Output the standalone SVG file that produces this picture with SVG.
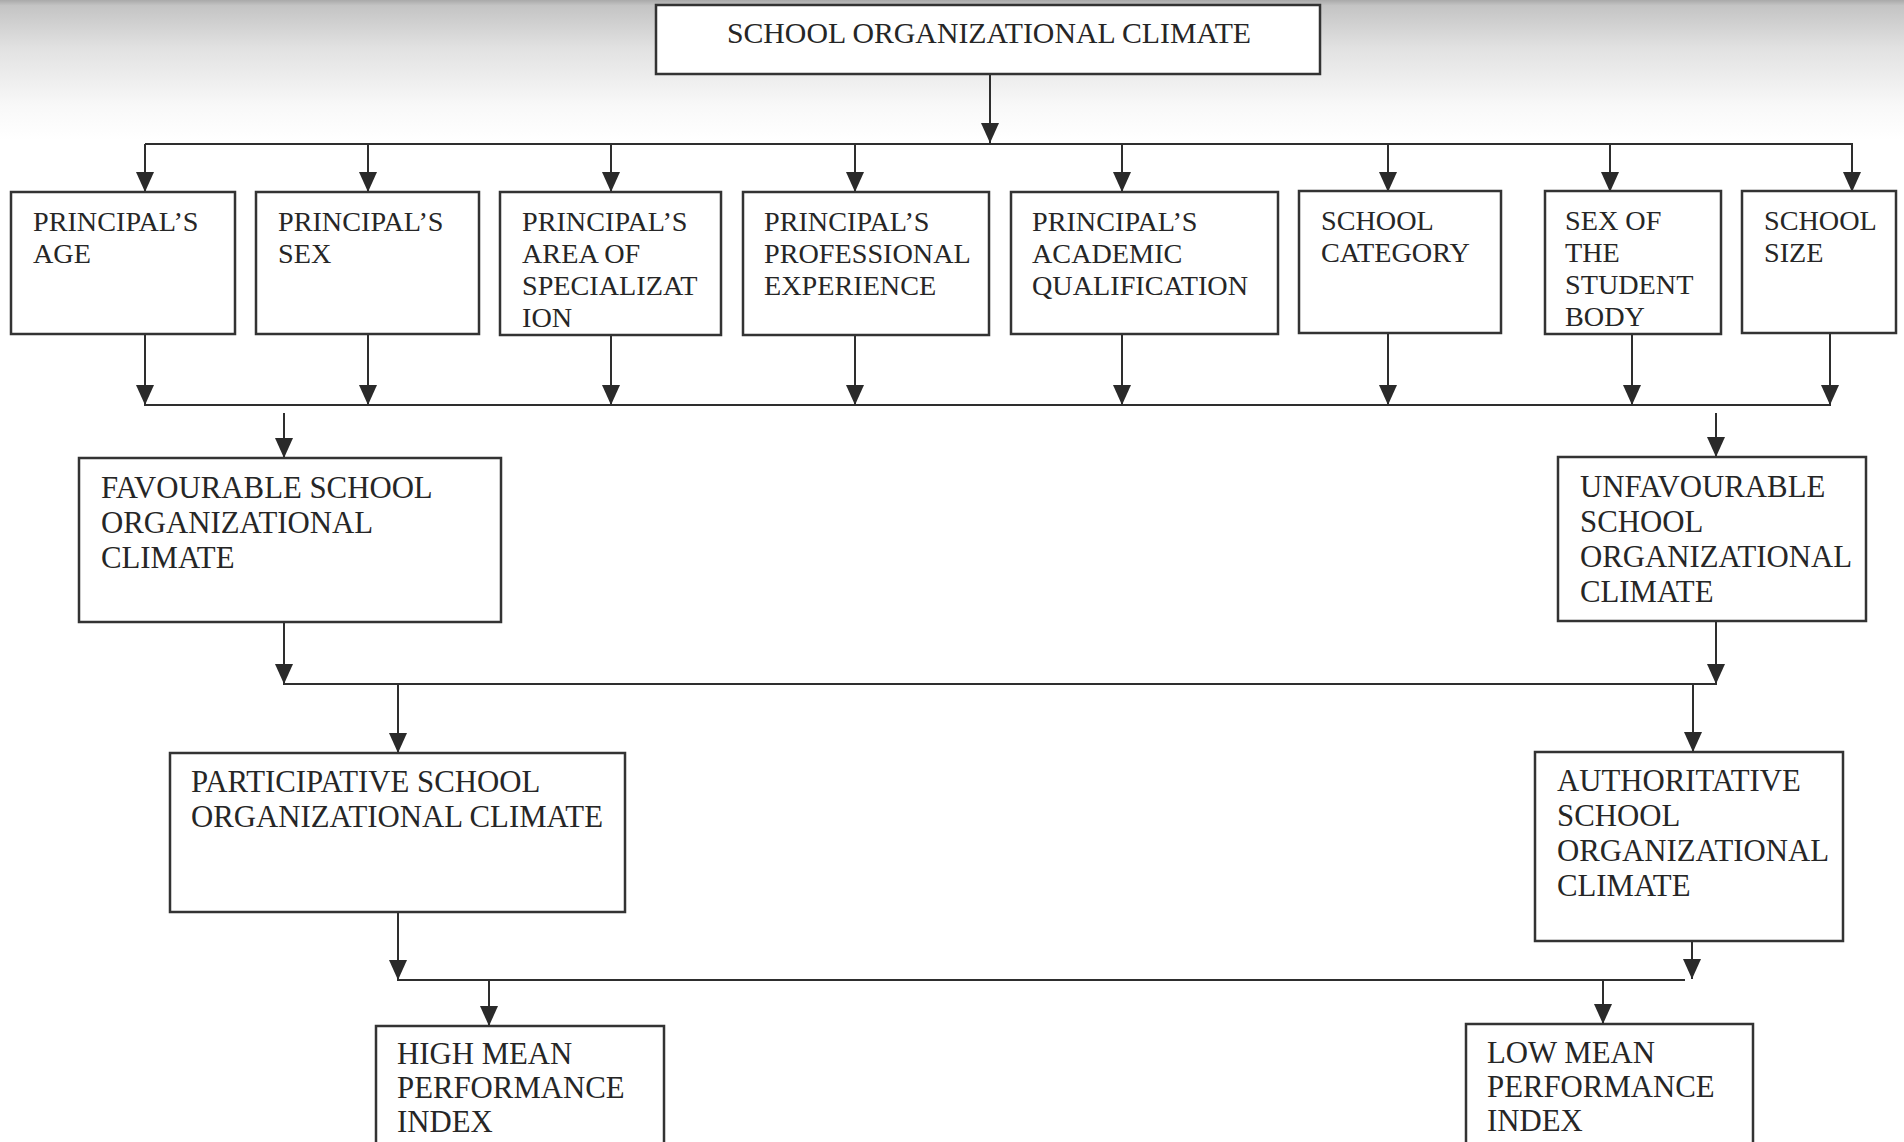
<svg xmlns="http://www.w3.org/2000/svg" width="1904" height="1142" viewBox="0 0 1904 1142">
  <defs>
    <linearGradient id="shade" x1="0" y1="0" x2="0" y2="1">
      <stop offset="0" stop-color="#a9a9a9"/>
      <stop offset="0.04" stop-color="#c4c4c4"/>
      <stop offset="0.35" stop-color="#e2e2e2"/>
      <stop offset="0.75" stop-color="#f8f8f8"/>
      <stop offset="1" stop-color="#ffffff"/>
    </linearGradient>
    <marker id="arr" viewBox="0 0 20 18" refX="20" refY="9" markerWidth="20" markerHeight="18" markerUnits="userSpaceOnUse" orient="auto">
      <path d="M0,0 L20,9 L0,18 Z" fill="#2a2a2a"/>
    </marker>
    <style>
      .box { fill: #ffffff; stroke: #333333; stroke-width: 2.5; }
      .t { font-family: "Liberation Serif", "Times New Roman", serif; fill: #262626; }
      .s1 { font-size: 28.2px; }
      .s2 { font-size: 30.8px; }
      .ln { fill: none; stroke: #2e2e2e; stroke-width: 2.2; }
      .ar { fill: none; stroke: #2e2e2e; stroke-width: 2; marker-end: url(#arr); }
    </style>
  </defs>
  <rect x="0" y="0" width="1904" height="1142" fill="#ffffff"/>
  <rect x="0" y="0" width="1904" height="140" fill="url(#shade)"/>

  <g id="connectors">
    <!-- top to row -->
    <line class="ar" x1="990" y1="74" x2="990" y2="143"/>
    <line class="ln" x1="145" y1="144" x2="1853" y2="144"/>
    <line class="ar" x1="145" y1="144" x2="145" y2="192"/>
    <line class="ar" x1="368" y1="144" x2="368" y2="192"/>
    <line class="ar" x1="611" y1="144" x2="611" y2="192"/>
    <line class="ar" x1="855" y1="144" x2="855" y2="192"/>
    <line class="ar" x1="1122" y1="144" x2="1122" y2="192"/>
    <line class="ar" x1="1388" y1="144" x2="1388" y2="192"/>
    <line class="ar" x1="1610" y1="144" x2="1610" y2="192"/>
    <line class="ar" x1="1852" y1="144" x2="1852" y2="192"/>
    <!-- row to collector -->
    <line class="ar" x1="145" y1="334" x2="145" y2="405"/>
    <line class="ar" x1="368" y1="334" x2="368" y2="405"/>
    <line class="ar" x1="611" y1="335" x2="611" y2="405"/>
    <line class="ar" x1="855" y1="335" x2="855" y2="405"/>
    <line class="ar" x1="1122" y1="334" x2="1122" y2="405"/>
    <line class="ar" x1="1388" y1="333" x2="1388" y2="405"/>
    <line class="ar" x1="1632" y1="334" x2="1632" y2="405"/>
    <line class="ar" x1="1830" y1="333" x2="1830" y2="405"/>
    <line class="ln" x1="144" y1="405" x2="1831" y2="405"/>
    <!-- to climates -->
    <line class="ar" x1="284" y1="413" x2="284" y2="458"/>
    <line class="ar" x1="1716" y1="413" x2="1716" y2="457"/>
    <!-- climates to collector -->
    <line class="ar" x1="284" y1="622" x2="284" y2="684"/>
    <line class="ar" x1="1716" y1="621" x2="1716" y2="684"/>
    <line class="ln" x1="283" y1="684" x2="1717" y2="684"/>
    <!-- to participative / authoritative -->
    <line class="ar" x1="398" y1="684" x2="398" y2="753"/>
    <line class="ar" x1="1693" y1="684" x2="1693" y2="752"/>
    <!-- to collector -->
    <line class="ar" x1="398" y1="912" x2="398" y2="980"/>
    <line class="ar" x1="1692" y1="941" x2="1692" y2="979"/>
    <line class="ln" x1="397" y1="980" x2="1685" y2="980"/>
    <!-- to outcomes -->
    <line class="ar" x1="489" y1="980" x2="489" y2="1026"/>
    <line class="ar" x1="1603" y1="980" x2="1603" y2="1024"/>
  </g>

  <g id="node-climate">
    <rect class="box" x="656" y="5" width="664" height="69"/>
    <text class="t" x="989" y="43" text-anchor="middle" font-size="29.8px">SCHOOL ORGANIZATIONAL CLIMATE</text>
  </g>

  <g id="node-age">
    <rect class="box" x="11" y="192" width="224" height="142"/>
    <text class="t s1" x="33" y="231">PRINCIPAL’S</text>
    <text class="t s1" x="33" y="263">AGE</text>
  </g>
  <g id="node-sex">
    <rect class="box" x="256" y="192" width="223" height="142"/>
    <text class="t s1" x="278" y="231">PRINCIPAL’S</text>
    <text class="t s1" x="278" y="263">SEX</text>
  </g>
  <g id="node-area">
    <rect class="box" x="500" y="192" width="221" height="143"/>
    <text class="t s1" x="522" y="231">PRINCIPAL’S</text>
    <text class="t s1" x="522" y="263">AREA OF</text>
    <text class="t s1" x="522" y="295">SPECIALIZAT</text>
    <text class="t s1" x="522" y="327">ION</text>
  </g>
  <g id="node-experience">
    <rect class="box" x="743" y="192" width="246" height="143"/>
    <text class="t s1" x="764" y="231">PRINCIPAL’S</text>
    <text class="t s1" x="764" y="263">PROFESSIONAL</text>
    <text class="t s1" x="764" y="295">EXPERIENCE</text>
  </g>
  <g id="node-qualification">
    <rect class="box" x="1011" y="192" width="267" height="142"/>
    <text class="t s1" x="1032" y="231">PRINCIPAL’S</text>
    <text class="t s1" x="1032" y="263">ACADEMIC</text>
    <text class="t s1" x="1032" y="295">QUALIFICATION</text>
  </g>
  <g id="node-category">
    <rect class="box" x="1299" y="191" width="202" height="142"/>
    <text class="t s1" x="1321" y="230">SCHOOL</text>
    <text class="t s1" x="1321" y="262">CATEGORY</text>
  </g>
  <g id="node-student-body">
    <rect class="box" x="1545" y="191" width="176" height="143"/>
    <text class="t s1" x="1565" y="230">SEX OF</text>
    <text class="t s1" x="1565" y="262">THE</text>
    <text class="t s1" x="1565" y="294">STUDENT</text>
    <text class="t s1" x="1565" y="326">BODY</text>
  </g>
  <g id="node-size">
    <rect class="box" x="1742" y="191" width="154" height="142"/>
    <text class="t s1" x="1764" y="230">SCHOOL</text>
    <text class="t s1" x="1764" y="262">SIZE</text>
  </g>

  <g id="node-favourable">
    <rect class="box" x="79" y="458" width="422" height="164"/>
    <text class="t s2" x="101" y="498">FAVOURABLE SCHOOL</text>
    <text class="t s2" x="101" y="533">ORGANIZATIONAL</text>
    <text class="t s2" x="101" y="568">CLIMATE</text>
  </g>
  <g id="node-unfavourable">
    <rect class="box" x="1558" y="457" width="308" height="164"/>
    <text class="t s2" x="1580" y="497">UNFAVOURABLE</text>
    <text class="t s2" x="1580" y="532">SCHOOL</text>
    <text class="t s2" x="1580" y="567">ORGANIZATIONAL</text>
    <text class="t s2" x="1580" y="602">CLIMATE</text>
  </g>

  <g id="node-participative">
    <rect class="box" x="170" y="753" width="455" height="159"/>
    <text class="t s2" x="191" y="792">PARTICIPATIVE SCHOOL</text>
    <text class="t s2" x="191" y="827">ORGANIZATIONAL CLIMATE</text>
  </g>
  <g id="node-authoritative">
    <rect class="box" x="1535" y="752" width="308" height="189"/>
    <text class="t s2" x="1557" y="791">AUTHORITATIVE</text>
    <text class="t s2" x="1557" y="826">SCHOOL</text>
    <text class="t s2" x="1557" y="861">ORGANIZATIONAL</text>
    <text class="t s2" x="1557" y="896">CLIMATE</text>
  </g>

  <g id="node-high">
    <rect class="box" x="376" y="1026" width="288" height="140"/>
    <text class="t s2" x="397" y="1064">HIGH MEAN</text>
    <text class="t s2" x="397" y="1098">PERFORMANCE</text>
    <text class="t s2" x="397" y="1132">INDEX</text>
  </g>
  <g id="node-low">
    <rect class="box" x="1466" y="1024" width="287" height="140"/>
    <text class="t s2" x="1487" y="1063">LOW MEAN</text>
    <text class="t s2" x="1487" y="1097">PERFORMANCE</text>
    <text class="t s2" x="1487" y="1131">INDEX</text>
  </g>
</svg>
